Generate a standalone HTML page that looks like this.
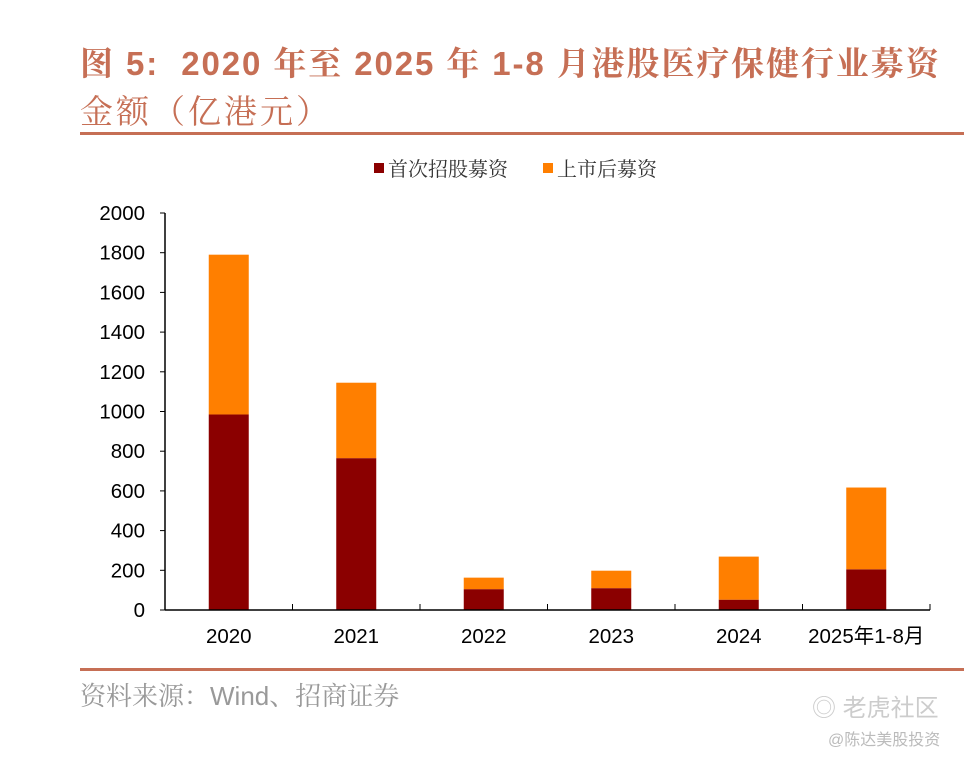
<!DOCTYPE html>
<html><head><meta charset="utf-8"><style>
body{margin:0;background:#fff;width:964px;height:758px;overflow:hidden;position:relative;font-family:"Liberation Sans","Noto Sans CJK SC",sans-serif}
.t{position:absolute;left:80px;color:#C66F55;font-weight:bold;font-size:33px;line-height:40px;white-space:nowrap}
</style></head><body>
<div class="t" style="top:44px;letter-spacing:1.9px;font-family:'Liberation Sans','Noto Serif CJK SC',serif">图 5:&nbsp; 2020 年至 2025 年 1-8 月港股医疗保健行业募资</div>
<div class="t" style="top:90px;font-weight:normal;letter-spacing:3px;font-family:'Noto Serif CJK SC',serif">金额（亿港元）</div>
<div style="position:absolute;left:80px;top:132px;width:884px;height:3px;background:#C66F55"></div>
<div style="position:absolute;left:80px;top:668px;width:884px;height:3px;background:#C66F55"></div>
<div style="position:absolute;left:80px;top:676px;font-size:26px;color:#999;font-family:'Liberation Sans','Noto Serif CJK SC',serif">资料来源：Wind、招商证券</div>
<div style="position:absolute;left:812px;top:688px;font-size:24px;color:#ccc">◎ 老虎社区</div>
<div style="position:absolute;left:828px;top:726px;font-size:16px;color:#bbb">@陈达美股投资</div>
<svg id="c" width="964" height="758" style="position:absolute;left:0;top:0"></svg>
<script>
const categories=["2020","2021","2022","2023","2024","2025年1-8月"];
const ipoValues=[985,765,105,110,52,205];
const followOnValues=[805,380,58,88,217,412];
const yTicks=[0,200,400,600,800,1000,1200,1400,1600,1800,2000];
const NS="http://www.w3.org/2000/svg",svg=document.getElementById('c');
const x0=165,x1=930,y0=610,y1=213,yMax=2000;
const y=v=>y0-(v/yMax)*(y0-y1);
const band=(x1-x0)/categories.length;
const xc=i=>x0+band*(i+0.5);
function mk(t,a,p){const e=document.createElementNS(NS,t);for(const k in a)e.setAttribute(k,a[k]);(p||svg).appendChild(e);return e;}
yTicks.forEach(v=>{
 const l=mk('line',{x1:x0-5,x2:x0,y1:y(v),y2:y(v),stroke:'#000'});
 
 
 const t=mk('text',{x:x0-20,y:y(v)+7,'text-anchor':'end','font-size':'20.5',fill:'#000'});
 t.textContent=v;
 
 
});
const ya=mk('line',{x1:x0,x2:x0,y1:y1,y2:y0,stroke:'#000','stroke-width':1.5});


categories.forEach((c,i)=>{
 const bw=40,cx=xc(i);
 const b1=mk('rect',{x:cx-bw/2,y:y(ipoValues[i]),width:bw,height:y0-y(ipoValues[i]),fill:'#8B0000'});
 
 
 const tot=ipoValues[i]+followOnValues[i];
 const b2=mk('rect',{x:cx-bw/2,y:y(tot),width:bw,height:y(ipoValues[i])-y(tot),fill:'#FF7F00'});
 
 
 const t=mk('text',{x:cx,y:y0+33,'text-anchor':'middle','font-size':'20.5',fill:'#000'});
 t.textContent=c;
 
 
});
for(let i=0;i<=categories.length;i++){
 const l=mk('line',{x1:x0+band*i,x2:x0+band*i,y1:y0,y2:y0-6,stroke:'#000'});
 
 
}
const xa=mk('line',{x1:x0,x2:x1,y1:y0,y2:y0,stroke:'#000','stroke-width':1.5});


const leg=[["首次招股募资","#8B0000",374],["上市后募资","#FF7F00",543]];
leg.forEach(([n,c,lx])=>{
 const r=mk('rect',{x:lx,y:163,width:10,height:10,fill:c});
 
 
 const t=mk('text',{x:lx+14,y:176,'font-size':'20',fill:'#333','font-family':'"Noto Serif CJK SC",serif'});
 t.textContent=n;
 
 
});
</script>
</body></html>
